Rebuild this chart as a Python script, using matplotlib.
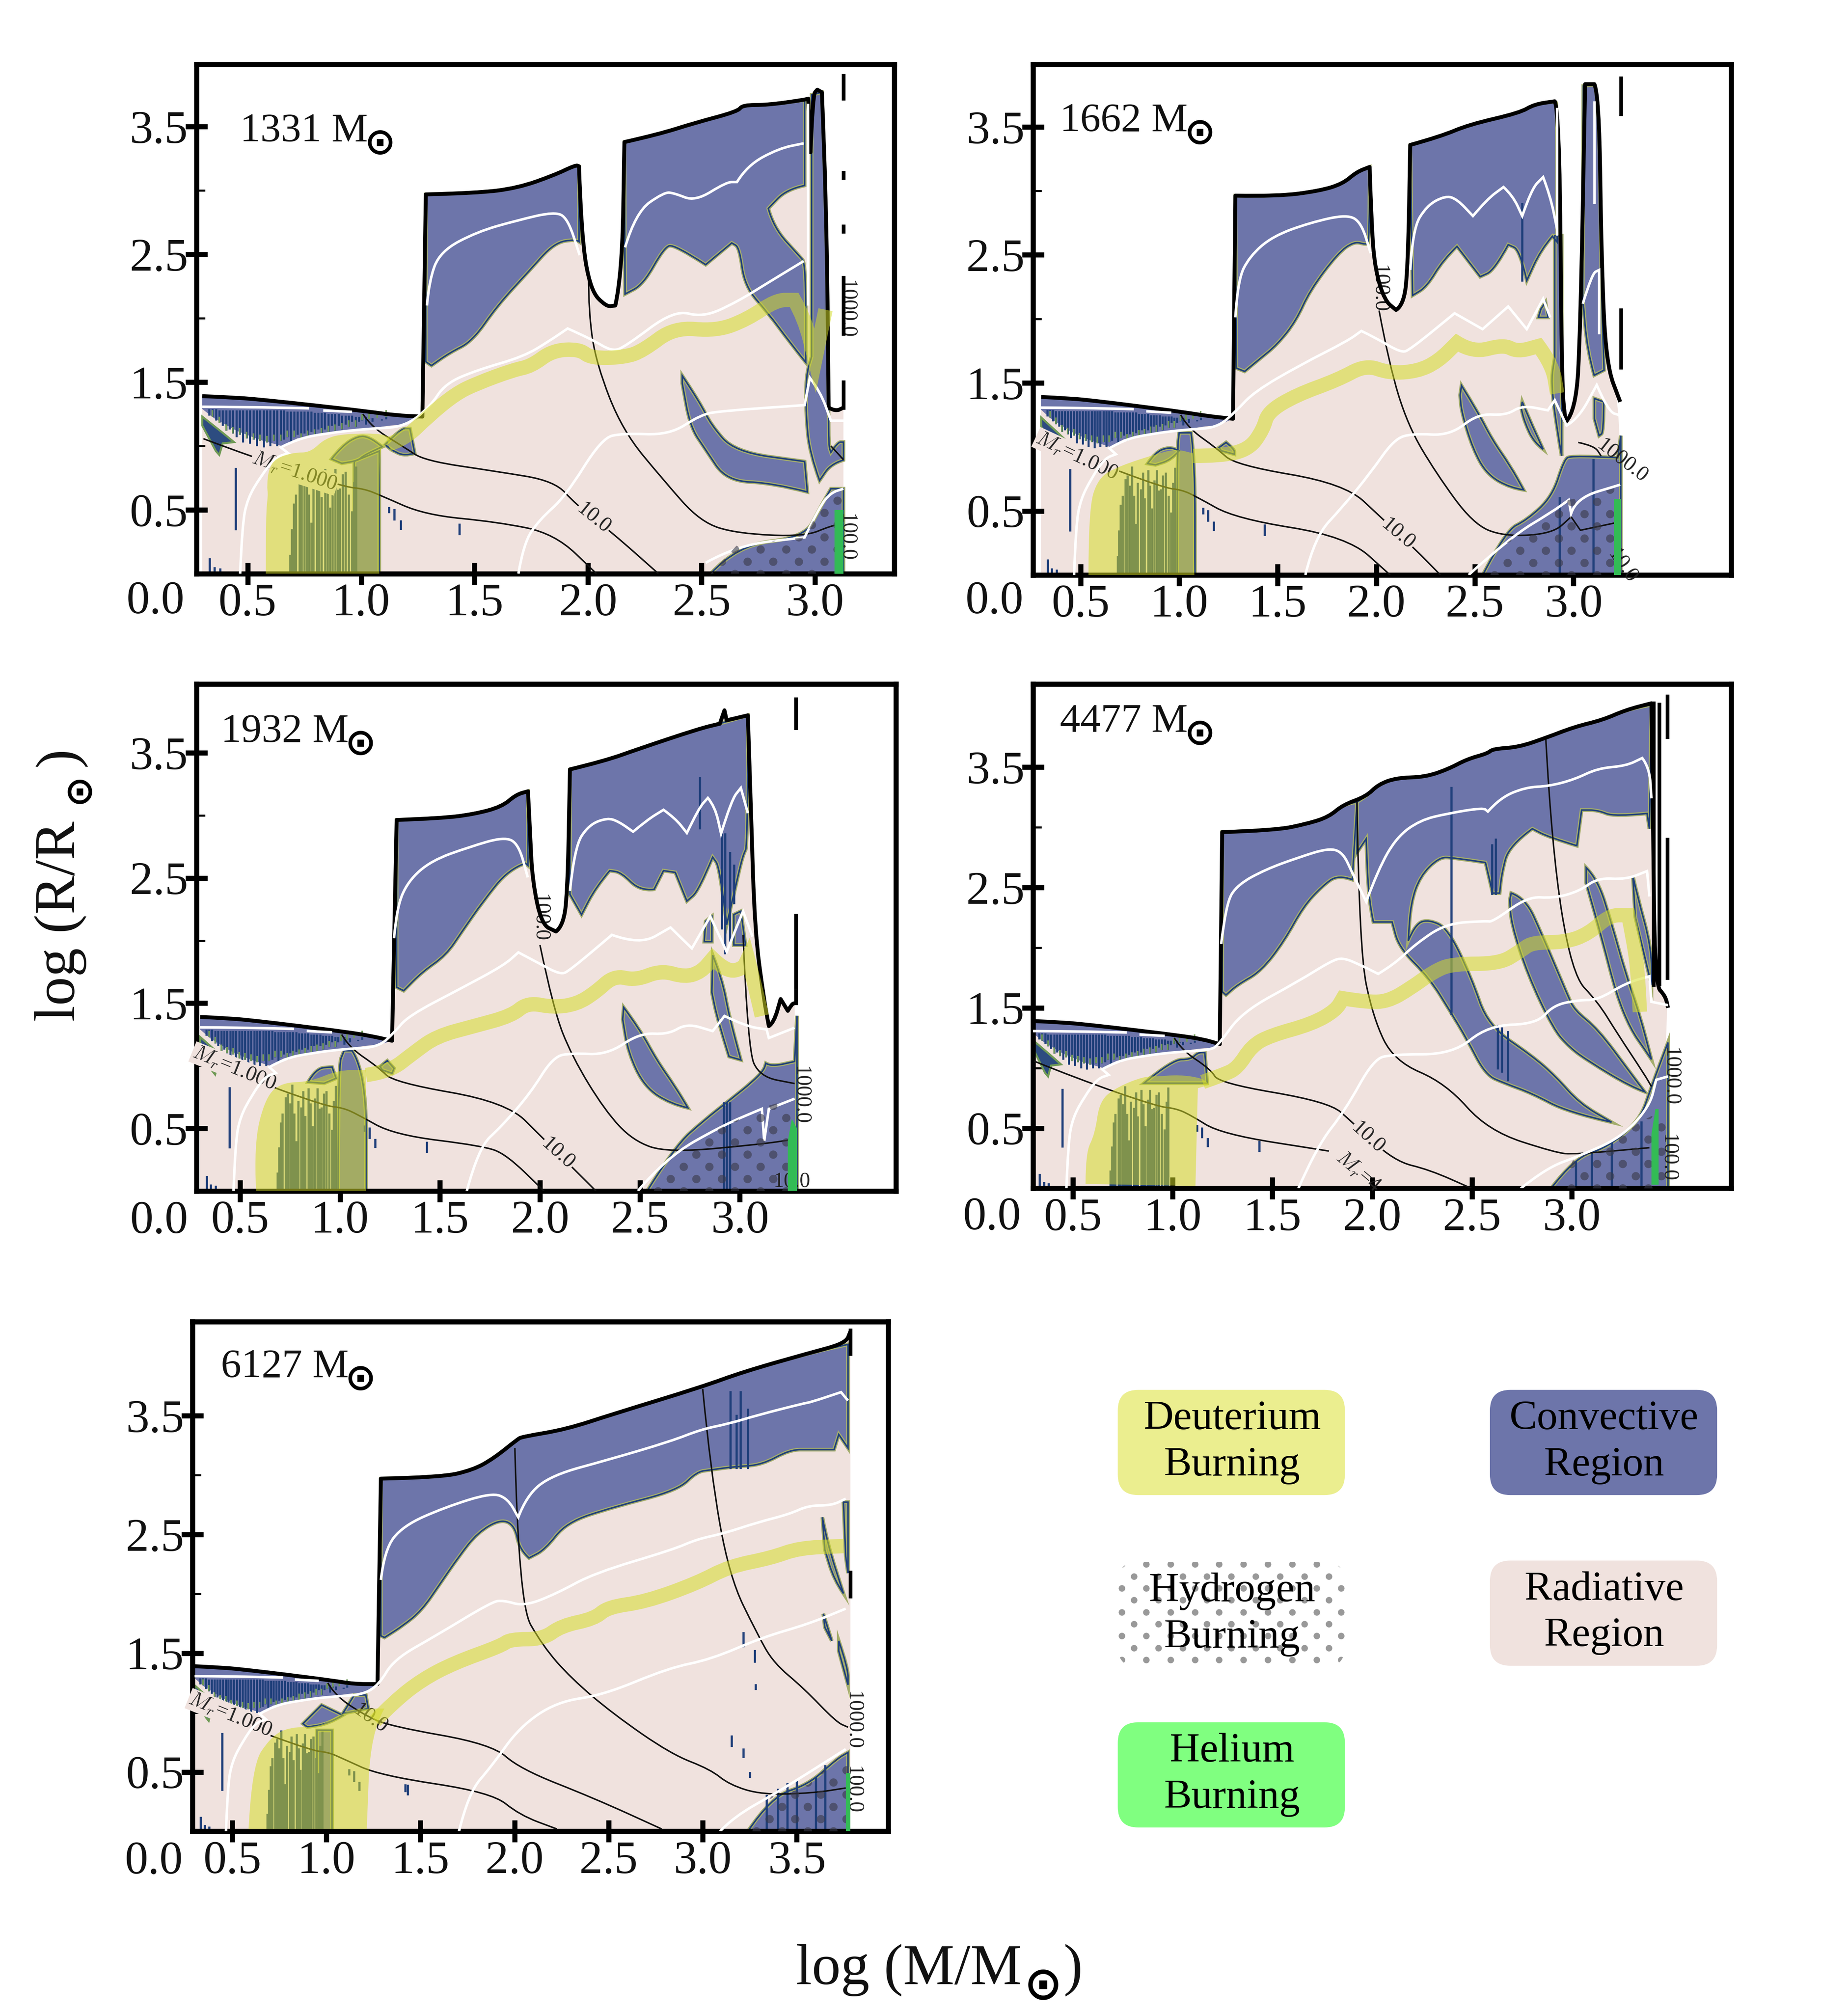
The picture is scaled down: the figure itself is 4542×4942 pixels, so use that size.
import numpy as np
import matplotlib
matplotlib.use("Agg")
import matplotlib.pyplot as plt
from matplotlib.patches import Polygon, FancyBboxPatch, PathPatch
from matplotlib.path import Path

plt.rcParams["font.family"] = ["Liberation Serif", "DejaVu Serif"]
plt.rcParams["mathtext.fontset"] = "cm"

RAD = "#f0e2de"
CONV = "#6d75aa"
NAVY = "#1f3f7a"
OLIVE = "#a4ad6c"
YELLOW = "#d5dd26"
GREEN = "#33bb55"

# parts shared by all models, the protostellar phase looks the same
LOW_SURFACE = [(0.30, 1.39), (0.45, 1.38), (0.60, 1.355), (0.785, 1.32), (1.03, 1.27), (1.15, 1.24)]
ENV_BOTTOM = [(1.20, 1.17), (1.13, 1.16), (1.0, 1.13), (0.85, 1.09), (0.72, 1.06), (0.65, 1.0),
              (0.55, 1.05), (0.45, 1.12), (0.35, 1.22), (0.30, 1.29)]
ENV_X = [0.33, 0.345, 0.36, 0.375, 0.39, 0.405, 0.42, 0.435, 0.45, 0.465, 0.48, 0.495, 0.51, 0.525, 0.54, 0.555,
         0.57, 0.585, 0.60, 0.615, 0.63, 0.645, 0.66, 0.675, 0.69, 0.705, 0.72, 0.735, 0.75, 0.765, 0.78, 0.795,
         0.81, 0.825, 0.84, 0.855, 0.87, 0.885, 0.90, 0.915, 0.93, 0.945, 0.96, 0.975, 0.99, 1.005, 1.02, 1.035,
         1.05, 1.07, 1.09, 1.11]
ENV_LOW = [1.24, 1.23, 1.20, 1.18, 1.16, 1.12, 1.13, 1.10, 1.07, 1.09, 1.03, 1.06, 1.02, 1.05, 1.0, 1.04,
           0.99, 1.03, 1.0, 1.04, 1.0, 1.04, 1.05, 1.07, 1.03, 1.07, 1.09, 1.05, 1.10, 1.07, 1.11, 1.08,
           1.13, 1.09, 1.13, 1.11, 1.16, 1.12, 1.16, 1.13, 1.17, 1.15, 1.19, 1.15, 1.19, 1.20, 1.17, 1.21,
           1.19, 1.22, 1.20, 1.23]
ENV_HIGH = [1.29, 1.29, 1.29, 1.28, 1.28, 1.28, 1.28, 1.28, 1.28, 1.28, 1.28, 1.28, 1.28, 1.28, 1.28, 1.28,
            1.28, 1.28, 1.28, 1.28, 1.28, 1.28, 1.28, 1.27, 1.27, 1.27, 1.27, 1.27, 1.27, 1.27, 1.27, 1.26,
            1.26, 1.26, 1.26, 1.25, 1.25, 1.25, 1.25, 1.24, 1.24, 1.24, 1.24, 1.23, 1.23, 1.23, 1.23, 1.22,
            1.22, 1.22, 1.21, 1.21]
LEFT_PATCH = [(0.30, 1.23), (0.30, 1.16), (0.36, 0.96), (0.375, 0.93), (0.39, 1.02), (0.44, 1.03), (0.385, 1.11)]
SPECKS = [(0.447, 0.35, 0.82), (0.333, 0.0, 0.114), (0.354, 0.0, 0.045), (0.378, 0.0, 0.034),
          (1.122, 0.483, 0.517), (1.146, 0.426, 0.50), (1.175, 0.352, 0.41), (1.433, 0.313, 0.386)]
DEUT_X = [0.687, 0.695, 0.703, 0.712, 0.728, 0.738, 0.75, 0.76, 0.77, 0.78, 0.79, 0.805, 0.815, 0.825, 0.842, 0.852,
          0.862, 0.874, 0.886, 0.896, 0.906, 0.918, 0.931, 0.945, 0.959, 0.968, 0.978]
DEUT_TOP = [0.15, 0.35, 0.55, 0.62, 0.75, 0.78, 0.70, 0.85, 0.62, 0.40, 0.72, 0.67, 0.80, 0.60, 0.82, 0.70,
            0.52, 0.74, 0.82, 0.66, 0.67, 0.78, 0.80, 0.62, 0.49, 0.72, 0.84]
WHITE_TOP = [[(0.30, 1.307), (0.50, 1.305), (0.77, 1.295)], [(0.833, 1.278), (0.96, 1.267)]]
WHITE_LOW = [(0.467, 0.0), (0.476, 0.386), (0.50, 0.59), (0.557, 0.76), (0.622, 0.91), (0.679, 0.943), (0.646, 0.989),
             (0.72, 1.057), (0.85, 1.10), (1.03, 1.136), (1.19, 1.148)]
BLACK_MR = [(0.305, 1.057), (0.516, 0.915), (0.923, 0.68), (1.012, 0.665), (1.085, 0.614)]
BLACK_TEN = [(1.008, 1.25), (1.045, 1.148), (1.19, 0.99)]
CORE_BUMP = [(0.87, 0.898), (0.915, 1.0), (0.988, 1.08), (1.036, 1.068), (1.093, 0.994), (1.012, 0.93), (0.988, 0.886),
             (0.915, 0.864)]

# 1331
SURF_1331 = [(1.27, 1.23), (1.285, 2.97), (1.51, 2.98), (1.69, 3.02), (1.85, 3.12), (1.945, 3.20), (1.96, 3.19),
             (1.97, 2.65), (2.01, 2.22), (2.08, 2.09), (2.12, 2.10), (2.15, 2.34), (2.16, 3.38), (2.31, 3.44),
             (2.47, 3.53), (2.66, 3.62), (2.68, 3.67), (2.79, 3.67), (2.95, 3.71), (2.97, 3.72), (2.98, 3.3),
             (2.99, 3.75), (3.01, 3.79), (3.03, 3.77), (3.05, 2.95), (3.06, 1.30), (3.09, 1.27), (3.125, 1.30)]
CONV_1331 = [
    [(1.285, 2.97), (1.51, 2.98), (1.69, 3.02), (1.85, 3.12), (1.945, 3.20), (1.96, 3.19), (1.96, 2.6), (1.945, 2.62),
     (1.85, 2.59), (1.74, 2.37), (1.6, 2.10), (1.49, 1.82), (1.39, 1.73), (1.31, 1.63), (1.285, 1.66)],
    [(2.16, 3.38), (2.31, 3.44), (2.47, 3.53), (2.66, 3.62), (2.68, 3.67), (2.79, 3.67), (2.954, 3.71), (2.954, 3.04),
     (2.874, 3.01), (2.794, 2.86), (2.817, 2.71), (2.93, 2.49), (2.959, 2.43), (2.959, 1.655), (2.885, 1.82),
     (2.794, 2.04), (2.69, 2.25), (2.667, 2.555), (2.633, 2.59), (2.518, 2.42), (2.38, 2.58), (2.335, 2.555),
     (2.243, 2.265), (2.163, 2.19)],
    [(2.985, 3.75), (3.03, 3.77), (3.05, 2.9), (3.06, 1.3), (3.06, 1.0), (3.07, 0.95), (3.10, 1.03), (3.125, 1.03),
     (3.125, 0.89), (3.07, 0.86), (3.02, 0.73), (2.977, 0.94), (2.96, 1.24), (2.96, 1.55), (2.985, 1.7)],
    [(2.415, 1.55), (2.495, 1.335), (2.54, 1.17), (2.645, 0.954), (2.954, 0.878), (2.966, 0.64), (2.816, 0.71),
     (2.61, 0.726), (2.518, 0.97), (2.45, 1.15), (2.415, 1.49)],
    [(2.54, 0.0), (2.656, 0.223), (2.954, 0.284), (3.02, 0.51), (3.07, 0.665), (3.125, 0.665), (3.125, 0.0)],
    [(1.106, 1.01), (1.175, 1.136), (1.215, 1.136), (1.236, 0.943), (1.19, 0.92), (1.134, 0.97)],
    CORE_BUMP,
    [(0.97, 0.0), (0.97, 0.88), (1.08, 0.96), (1.08, 0.0)],
]
DOTS_1331 = [(2.54, 0.0), (2.656, 0.223), (2.954, 0.284), (3.02, 0.51), (3.07, 0.665), (3.125, 0.665), (3.125, 0.0)]
HE_1331 = [(3.085, 0.0), (3.085, 0.5), (3.125, 0.5), (3.125, 0.0)]
LOWD_1331 = [(0.58, 0.0), (0.58, 0.477), (0.59, 0.61), (0.585, 0.693), (0.593, 0.818), (0.622, 0.903), (0.703, 0.949),
             (0.776, 0.949), (0.841, 1.06), (0.931, 1.097), (1.11, 1.097), (1.134, 1.034), (1.098, 0.994), (1.08, 0.955),
             (1.08, 0.0)]
BAND_1331 = [(1.12, 1.015), (1.19, 1.05), (1.30, 1.24), (1.417, 1.41), (1.51, 1.49), (1.67, 1.595), (1.75, 1.625),
             (1.842, 1.747), (1.96, 1.76), (2.014, 1.686), (2.163, 1.695), (2.243, 1.747), (2.38, 1.93), (2.564, 1.90),
             (2.70, 1.99), (2.828, 2.143), (2.908, 2.143), (2.954, 2.0), (3.0, 1.67), (3.046, 2.067)]
WHITE_1331 = [
    [(1.29, 2.10), (1.30, 2.3), (1.349, 2.524), (1.51, 2.677), (1.69, 2.768), (1.853, 2.835), (1.91, 2.783), (1.963, 2.494)],
    [(2.163, 2.555), (2.209, 2.83), (2.335, 2.988), (2.38, 2.98), (2.472, 2.915), (2.61, 3.067), (2.656, 3.067),
     (2.70, 3.195), (2.84, 3.33), (2.95, 3.37)],
    WHITE_LOW + [(1.303, 1.305), (1.37, 1.488), (1.51, 1.594), (1.716, 1.70), (1.83, 1.823), (1.91, 1.92), (2.014, 1.838),
                 (2.105, 1.74), (2.163, 1.777), (2.38, 2.067), (2.507, 2.006), (2.656, 2.128), (2.794, 2.28), (2.95, 2.448)],
    [(1.693, 0.0), (1.716, 0.238), (1.784, 0.42), (1.9, 0.604), (2.06, 1.06), (2.151, 1.10), (2.358, 1.085), (2.495, 1.244),
     (2.587, 1.274), (2.954, 1.32), (2.977, 1.534), (3.023, 1.427), (3.07, 1.198), (3.125, 1.198)],
    [(2.518, 0.085), (2.656, 0.223), (2.954, 0.284), (3.02, 0.527), (3.07, 0.634), (3.125, 0.665)],
    [(2.97, 3.68), (2.97, 2.1)],
]
BLACK_1331 = [
    BLACK_MR + [(1.28, 0.46), (1.6, 0.405), (1.853, 0.314), (2.037, 0.0)],
    BLACK_TEN + [(1.28, 0.884), (1.6, 0.80), (1.853, 0.725), (1.945, 0.543), (2.105, 0.323), (2.31, 0.0)],
    [(2.002, 2.34), (2.002, 2.037), (2.037, 1.64), (2.151, 1.122), (2.335, 0.726), (2.495, 0.405), (2.656, 0.314),
     (2.954, 0.29), (3.07, 0.375), (3.125, 0.39)],
    [(3.07, 1.0), (3.125, 0.893)],
]
NEEDLE_1331 = [(3.125, 3.9, 3.72), (3.125, 3.14, 3.1), (3.125, 2.72, 2.68), (3.125, 2.32, 1.88), (3.125, 1.5, 1.3)]
LABELS_1331 = [("$M_r$=1.000", 0.706, 0.80, -18, True), ("10.0", 2.025, 0.436, -39, True),
               ("1000.0", 3.14, 2.07, 270, False), ("100.0", 3.14, 0.284, 270, False)]
STREAKS_1331 = []

# 1662
SURF_1662 = [(1.273, 1.22), (1.285, 2.963), (1.498, 2.957), (1.711, 3.0), (1.829, 3.055), (1.90, 3.148), (1.966, 3.187),
             (1.976, 2.70), (1.995, 2.38), (2.042, 2.144), (2.10, 2.07), (2.137, 2.105), (2.16, 2.382), (2.172, 3.359),
             (2.326, 3.425), (2.468, 3.517), (2.728, 3.61), (2.80, 3.676), (2.905, 3.70), (2.929, 3.623), (2.94, 1.484),
             (2.96, 1.194), (3.012, 1.273), (3.035, 1.907), (3.059, 3.834), (3.106, 3.834), (3.13, 3.755), (3.142, 2.435),
             (3.166, 1.642), (3.237, 1.352)]
CONV_1662 = [
    [(1.285, 2.963), (1.498, 2.957), (1.711, 3.0), (1.829, 3.055), (1.90, 3.148), (1.966, 3.187), (1.966, 2.6), (1.947, 2.58),
     (1.888, 2.606), (1.805, 2.514), (1.663, 2.223), (1.593, 1.986), (1.498, 1.80), (1.404, 1.682), (1.332, 1.59), (1.29, 1.616)],
    [(2.172, 3.359), (2.326, 3.425), (2.468, 3.517), (2.728, 3.61), (2.80, 3.676), (2.905, 3.70), (2.917, 3.68), (2.917, 2.6),
     (2.893, 2.646), (2.834, 2.54), (2.763, 2.30), (2.728, 2.54), (2.669, 2.58), (2.598, 2.38), (2.527, 2.33), (2.409, 2.567),
     (2.338, 2.46), (2.255, 2.25), (2.184, 2.184)],
    [(2.905, 2.65), (2.94, 2.65), (2.94, 0.93), (2.92, 1.1), (2.885, 1.5), (2.905, 1.7)],
    [(3.05, 3.82), (3.106, 3.83), (3.13, 3.75), (3.14, 2.3), (3.155, 1.6), (3.105, 1.56), (3.07, 1.75), (3.047, 2.17)],
    [(3.106, 1.378), (3.153, 1.352), (3.153, 1.114), (3.13, 1.088), (3.106, 1.22)],
    [(2.432, 1.479), (2.515, 1.273), (2.586, 1.06), (2.68, 0.85), (2.747, 0.665), (2.68, 0.68), (2.562, 0.784), (2.49, 0.982),
     (2.432, 1.273), (2.425, 1.405)],
    [(2.74, 1.352), (2.775, 1.22), (2.846, 0.982), (2.80, 1.035), (2.752, 1.194), (2.735, 1.3)],
    [(2.858, 2.13), (2.87, 2.012), (2.822, 2.012), (2.835, 2.078)],
    [(2.54, 0.0), (2.657, 0.349), (2.763, 0.428), (2.893, 0.613), (2.953, 0.903), (2.988, 0.93), (3.225, 0.916), (3.24, 1.088),
     (3.24, 0.0)],
    [(1.202, 0.995), (1.238, 1.035), (1.28, 0.982), (1.28, 0.943), (1.214, 0.97)],
    [(0.84, 0.87), (0.88, 0.96), (0.95, 1.0), (1.0, 0.97), (0.96, 0.9), (0.88, 0.86)],
    [(0.99, 0.0), (0.99, 0.98), (1.0, 1.11), (1.06, 1.11), (1.08, 0.9), (1.08, 0.0)],
]
DOTS_1662 = [(2.54, 0.0), (2.66, 0.25), (2.96, 0.58), (3.07, 0.62), (3.24, 0.69), (3.24, 0.0)]
HE_1662 = [(3.205, 0.0), (3.205, 0.594), (3.24, 0.594), (3.24, 0.0)]
LOWD_1662 = [(0.54, 0.0), (0.54, 0.507), (0.588, 0.758), (0.694, 0.85), (0.907, 0.956), (0.99, 0.982), (1.07, 0.95),
             (1.077, 0.0)]
BAND_1662 = [(1.07, 0.93), (1.214, 0.93), (1.356, 0.982), (1.427, 1.14), (1.45, 1.273), (1.593, 1.405), (1.805, 1.524),
             (1.947, 1.642), (2.065, 1.576), (2.208, 1.59), (2.314, 1.669), (2.409, 1.814), (2.49, 1.735), (2.645, 1.80),
             (2.716, 1.743), (2.823, 1.788), (2.893, 1.642), (2.917, 1.418)]
WHITE_1662 = [
    [(1.285, 2.012), (1.297, 2.30), (1.356, 2.487), (1.474, 2.646), (1.664, 2.752), (1.853, 2.817), (1.924, 2.751), (1.971, 2.514)],
    [(2.172, 2.382), (2.184, 2.70), (2.255, 2.884), (2.35, 2.963), (2.409, 2.936), (2.49, 2.804), (2.562, 2.936), (2.645, 3.03),
     (2.692, 2.963), (2.74, 2.804), (2.787, 3.016), (2.846, 3.108), (2.882, 2.963), (2.917, 2.70)],
    WHITE_LOW + [(1.285, 1.273), (1.38, 1.431), (1.616, 1.642), (1.853, 1.827), (1.924, 1.906), (1.995, 1.854), (2.125, 1.735),
                 (2.172, 1.761), (2.397, 2.044), (2.539, 1.92), (2.669, 2.097), (2.763, 1.92), (2.846, 2.157), (2.882, 2.012)],
    [(1.64, 0.0), (1.687, 0.296), (1.83, 0.533), (1.97, 0.797), (2.09, 1.06), (2.184, 1.106), (2.373, 1.088), (2.515, 1.26),
     (2.657, 1.246), (2.74, 1.325), (2.87, 1.286), (2.905, 1.365), (2.965, 1.167), (3.024, 1.22), (3.118, 1.484), (3.177, 1.273),
     (3.24, 1.246)],
    [(2.468, 0.0), (2.68, 0.296), (2.893, 0.494), (2.976, 0.586), (2.988, 0.48), (3.012, 0.6), (3.237, 0.705)],
    [(3.047, 2.118), (3.094, 2.355), (3.13, 2.382), (3.13, 1.88)],
    [(3.106, 3.7), (3.106, 2.9)],
    [(2.917, 3.65), (2.917, 2.65)],
]
BLACK_1662 = [
    BLACK_MR + [(1.285, 0.44), (1.853, 0.30), (2.07, 0.0)],
    BLACK_TEN + [(1.285, 0.858), (1.84, 0.713), (2.03, 0.44), (2.196, 0.203), (2.325, 0.0)],
    [(2.014, 2.065), (2.065, 1.642), (2.16, 1.167), (2.302, 0.797), (2.49, 0.40), (2.645, 0.30), (2.893, 0.322), (2.988, 0.454),
     (3.035, 0.349), (3.237, 0.415)],
    [(3.024, 1.035), (3.106, 1.009), (3.14, 0.93)],
]
NEEDLE_1662 = [(3.24, 3.88, 3.6), (3.24, 2.07, 1.62)]
LABELS_1662 = [("$M_r$=1.000", 0.48, 0.93, -25, True), ("10.0", 2.11, 0.32, -40, True), ("1000.0", 3.248, 0.89, -38, False),
               ("100.0", 2.014, 2.236, 270, False), ("10.0", 3.248, 0.07, -55, False)]
STREAKS_1662 = [(2.74, 2.3, 2.9), (2.93, 0.0, 0.6), (3.1, 0.0, 0.9)]

# 1932
SURF_1932 = [(1.26, 1.2), (1.283, 2.964), (1.505, 2.977), (1.67, 3.01), (1.81, 3.07), (1.88, 3.166), (1.94, 3.193),
             (1.95, 2.88), (1.962, 2.478), (2.009, 2.127), (2.08, 2.073), (2.114, 2.113), (2.138, 2.37), (2.15, 3.368),
             (2.325, 3.436), (2.49, 3.53), (2.794, 3.692), (2.9, 3.733), (2.923, 3.84), (2.934, 3.76), (3.04, 3.80),
             (3.056, 3.018), (3.075, 2.073), (3.12, 1.533), (3.145, 1.317), (3.17, 1.344), (3.204, 1.533), (3.24, 1.439),
             (3.26, 1.493), (3.274, 1.5)]
CONV_1932 = [
    [(1.283, 2.964), (1.505, 2.977), (1.67, 3.01), (1.81, 3.07), (1.88, 3.166), (1.94, 3.193), (1.94, 2.6), (1.927, 2.618),
     (1.845, 2.572), (1.716, 2.316), (1.61, 2.073), (1.53, 1.884), (1.41, 1.749), (1.318, 1.6), (1.283, 1.628)],
    [(2.15, 3.368), (2.325, 3.436), (2.49, 3.53), (2.794, 3.692), (2.9, 3.733), (3.04, 3.80), (3.04, 2.748), (3.016, 2.694),
     (2.97, 2.37), (2.934, 2.127), (2.9, 2.586), (2.864, 2.667), (2.794, 2.397), (2.735, 2.316), (2.677, 2.545), (2.618, 2.559),
     (2.571, 2.41), (2.5, 2.397), (2.407, 2.545), (2.349, 2.559), (2.278, 2.424), (2.208, 2.208), (2.15, 2.37)],
    [(2.97, 2.208), (3.005, 2.235), (3.028, 1.965), (2.97, 1.965)],
    [(2.864, 1.884), (2.911, 1.695), (2.946, 1.398), (3.005, 1.047), (2.946, 1.074), (2.888, 1.371), (2.86, 1.587)],
    [(2.829, 2.154), (2.86, 2.194), (2.86, 1.992), (2.822, 1.992)],
    [(2.419, 1.466), (2.5, 1.29), (2.583, 1.047), (2.677, 0.831), (2.74, 0.664), (2.653, 0.696), (2.524, 0.831), (2.442, 1.101),
     (2.414, 1.371)],
    [(2.536, 0.0), (2.677, 0.36), (2.818, 0.561), (2.958, 0.737), (3.063, 0.872), (3.12, 0.966), (3.13, 1.02), (3.157, 0.993),
     (3.274, 1.034), (3.286, 1.4), (3.286, 0.0)],
    [(1.2, 0.993), (1.236, 1.04), (1.27, 0.98), (1.26, 0.94), (1.212, 0.966)],
    [(0.84, 0.87), (0.88, 0.98), (0.96, 0.99), (0.98, 0.90), (0.92, 0.86)],
    [(0.99, 0.0), (0.99, 1.0), (1.02, 1.12), (1.06, 1.12), (1.13, 0.95), (1.13, 0.0)],
]
DOTS_1932 = [(2.536, 0.0), (2.68, 0.28), (2.9, 0.5), (3.12, 0.67), (3.27, 0.74), (3.27, 0.0)]
HE_1932 = [(3.24, 0.0), (3.24, 0.4), (3.26, 0.575), (3.286, 0.5), (3.286, 0.0)]
LOWD_1932 = [(0.58, 0.0), (0.568, 0.372), (0.627, 0.75), (0.709, 0.866), (0.85, 0.872), (0.99, 0.966), (1.13, 0.966), (1.13, 0.0)]
BAND_1932 = [(1.13, 0.926), (1.247, 0.953), (1.365, 1.1), (1.482, 1.236), (1.67, 1.317), (1.857, 1.398), (1.939, 1.506),
             (2.067, 1.466), (2.185, 1.493), (2.278, 1.587), (2.372, 1.722), (2.478, 1.682), (2.606, 1.763), (2.724, 1.708),
             (2.806, 1.749), (2.864, 1.857), (2.934, 1.749), (3.016, 1.776), (3.04, 1.857), (3.063, 1.722), (3.11, 1.398)]
WHITE_1932 = [
    [(1.27, 2.019), (1.283, 2.262), (1.341, 2.478), (1.458, 2.64), (1.646, 2.748), (1.82, 2.829), (1.892, 2.775), (1.939, 2.505)],
    [(2.15, 2.397), (2.173, 2.748), (2.243, 2.923), (2.337, 2.982), (2.395, 2.95), (2.466, 2.87), (2.536, 2.964), (2.618, 3.045),
     (2.677, 2.977), (2.735, 2.86), (2.794, 3.058), (2.84, 3.14), (2.876, 3.07), (2.906, 2.855), (2.958, 3.125), (3.005, 3.22),
     (3.04, 3.018)],
    WHITE_LOW + [(1.27, 1.263), (1.341, 1.398), (1.6, 1.614), (1.82, 1.803), (1.892, 1.906), (1.997, 1.817), (2.103, 1.727),
                 (2.15, 1.763), (2.36, 2.046), (2.5, 1.965), (2.653, 2.105), (2.76, 1.938), (2.852, 2.194), (2.934, 1.911),
                 (3.016, 2.235), (3.063, 2.032)],
    [(1.634, 0.0), (1.692, 0.345), (1.81, 0.52), (1.95, 0.777), (2.067, 1.074), (2.161, 1.101), (2.337, 1.088), (2.5, 1.263),
     (2.641, 1.25), (2.735, 1.339), (2.864, 1.277), (2.923, 1.398), (3.028, 1.317), (3.134, 1.29), (3.145, 1.222), (3.274, 1.304)],
    [(2.49, 0.0), (2.63, 0.265), (2.91, 0.521), (3.11, 0.656), (3.122, 0.4), (3.145, 0.656), (3.274, 0.737)],
]
BLACK_1932 = [
    BLACK_MR + [(1.27, 0.448), (1.716, 0.36), (1.833, 0.29), (2.02, 0.0)],
    BLACK_TEN + [(1.27, 0.866), (1.833, 0.71), (2.02, 0.413), (2.28, 0.0)],
    [(2.0, 1.965), (2.067, 1.452), (2.16, 1.074), (2.325, 0.642), (2.466, 0.4), (2.64, 0.305), (3.1, 0.372), (3.274, 0.413)],
    [(3.016, 2.046), (3.04, 1.128), (3.1, 0.912), (3.274, 0.858)],
]
NEEDLE_1932 = [(3.28, 3.93, 3.7), (3.28, 2.2, 1.63), (3.28, 1.6, 1.5)]
LABELS_1932 = [("$M_r$=1.000", 0.47, 0.98, -22, True), ("10.0", 2.09, 0.3, -42, True), ("100.0", 2.0, 2.18, 270, False),
               ("1000.0", 3.305, 0.764, 270, False), ("10.0", 3.26, 0.075, 0, False)]
STREAKS_1932 = [(2.92, 0.0, 0.7), (2.935, 0.0, 0.7), (2.95, 0.0, 0.7), (2.91, 2.1, 2.85), (2.925, 1.9, 2.85), (2.95, 2.0, 2.7),
                (2.97, 2.3, 2.6), (2.8, 2.9, 3.3)]

# 4477
SURF_4477 = [(1.236, 1.198), (1.248, 2.96), (1.513, 2.974), (1.677, 3.03), (1.783, 3.087), (1.853, 3.186), (1.97, 3.256),
             (2.03, 3.355), (2.123, 3.411), (2.264, 3.417), (2.38, 3.482), (2.476, 3.566), (2.58, 3.614), (2.604, 3.651),
             (2.733, 3.665), (2.873, 3.744), (3.014, 3.834), (3.155, 3.891), (3.272, 3.975), (3.4, 4.03), (3.408, 3.1),
             (3.417, 1.69), (3.47, 1.6), (3.483, 1.5)]
CONV_4477 = [
    [(1.248, 2.96), (1.513, 2.974), (1.677, 3.03), (1.783, 3.087), (1.853, 3.186), (1.924, 3.21), (1.9, 2.565), (1.83, 2.608),
     (1.748, 2.509), (1.654, 2.34), (1.56, 2.058), (1.443, 1.804), (1.325, 1.692), (1.267, 1.607), (1.248, 1.635)],
    [(1.924, 3.21), (1.97, 3.256), (2.03, 3.355), (2.123, 3.411), (2.264, 3.417), (2.38, 3.482), (2.476, 3.566), (2.58, 3.614),
     (2.604, 3.651), (2.733, 3.665), (2.873, 3.744), (3.014, 3.834), (3.155, 3.891), (3.272, 3.975), (3.4, 4.017), (3.39, 2.988),
     (3.378, 3.115), (3.213, 3.087), (3.131, 3.143), (3.05, 3.143), (3.026, 2.847), (2.885, 2.918), (2.803, 2.988), (2.686, 2.847),
     (2.65, 2.622), (2.639, 2.453), (2.604, 2.453), (2.568, 2.707), (2.404, 2.749), (2.334, 2.749), (2.24, 2.594), (2.193, 2.368),
     (2.181, 2.058), (2.217, 2.2), (2.287, 2.233), (2.38, 2.157), (2.498, 1.748), (2.58, 1.353), (2.803, 1.1), (2.92, 0.93),
     (3.04, 0.705), (3.2, 0.55), (2.979, 0.634), (2.803, 0.789), (2.662, 0.874), (2.568, 0.944), (2.475, 1.24), (2.393, 1.466),
     (2.287, 1.748), (2.135, 2.0), (2.1, 2.213), (2.006, 2.213), (1.982, 2.396), (1.97, 2.904), (1.924, 2.79)],
    [(2.697, 2.453), (2.768, 2.41), (2.85, 2.114), (2.979, 1.607), (3.014, 1.48), (3.131, 1.325), (3.295, 0.959), (3.366, 0.803),
     (3.295, 0.846), (3.084, 1.057), (2.99, 1.17), (2.908, 1.325), (2.78, 1.776), (2.697, 2.2), (2.69, 2.396)],
    [(3.073, 2.664), (3.131, 2.566), (3.2, 2.2), (3.272, 1.776), (3.342, 1.438), (3.4, 1.071), (3.366, 1.156), (3.295, 1.325),
     (3.225, 1.607), (3.155, 2.058), (3.073, 2.537)],
    [(3.307, 2.594), (3.33, 2.425), (3.4, 2.0), (3.4, 1.69), (3.319, 2.255)],
    [(2.897, 0.0), (3.014, 0.254), (3.178, 0.338), (3.342, 0.564), (3.4, 0.846), (3.483, 1.212), (3.483, 0.0)],
    [(0.856, 0.874), (1.0, 1.07), (1.09, 1.07), (1.126, 1.128), (1.161, 1.128), (1.173, 0.874)],
]
DOTS_4477 = [(2.95, 0.0), (3.01, 0.25), (3.18, 0.34), (3.34, 0.55), (3.4, 0.6), (3.48, 0.6), (3.48, 0.0)]
HE_4477 = [(3.4, 0.03), (3.4, 0.45), (3.42, 0.66), (3.436, 0.66), (3.436, 0.03)]
LOWD_4477 = [(0.563, 0.037), (0.563, 0.296), (0.61, 0.45), (0.634, 0.733), (0.727, 0.846), (0.856, 0.93), (0.927, 0.93),
             (1.032, 0.944), (1.15, 0.916), (1.185, 0.86), (1.126, 0.832), (1.114, 0.02)]
BAND_4477 = [(1.15, 0.884), (1.255, 0.944), (1.325, 1.0), (1.396, 1.184), (1.49, 1.27), (1.7, 1.367), (1.818, 1.48), (1.853, 1.579),
             (1.959, 1.55), (2.076, 1.55), (2.193, 1.663), (2.31, 1.804), (2.404, 1.866), (2.639, 1.866), (2.744, 1.973), (2.803, 2.044),
             (2.967, 2.044), (3.084, 2.114), (3.19, 2.27), (3.284, 2.27), (3.307, 2.086), (3.33, 1.833), (3.342, 1.466)]
WHITE_4477 = [
    [(1.243, 2.03), (1.267, 2.368), (1.325, 2.523), (1.466, 2.65), (1.63, 2.749), (1.783, 2.828), (1.853, 2.79), (1.9, 2.622),
     (1.97, 2.382), (2.03, 2.65), (2.123, 2.918), (2.24, 3.059), (2.38, 3.115), (2.557, 3.163), (2.58, 3.13), (2.639, 3.242),
     (2.768, 3.332), (2.885, 3.341), (3.014, 3.397), (3.131, 3.49), (3.272, 3.51), (3.354, 3.575), (3.39, 3.496), (3.4, 3.24)],
    WHITE_LOW + [(1.232, 1.198), (1.349, 1.466), (1.63, 1.72), (1.794, 1.889), (1.853, 1.917), (1.935, 1.861), (2.03, 1.782),
                 (2.11, 1.861), (2.217, 2.03), (2.37, 2.2), (2.568, 2.222), (2.604, 2.213), (2.78, 2.425), (2.908, 2.41),
                 (3.037, 2.467), (3.131, 2.58), (3.272, 2.566), (3.378, 2.636), (3.39, 2.425)],
    [(1.63, 0.0), (1.724, 0.352), (1.865, 0.648), (2.006, 1.071), (2.1, 1.114), (2.404, 1.114), (2.58, 1.353), (2.826, 1.367),
     (2.908, 1.522), (3.037, 1.565), (3.131, 1.565), (3.272, 1.706), (3.39, 1.762), (3.4, 1.55), (3.483, 1.522)],
    [(2.745, 0.0), (2.873, 0.169), (3.037, 0.268), (3.248, 0.423), (3.39, 0.677), (3.424, 0.902), (3.483, 0.93)],
]
BLACK_4477 = [
    BLACK_MR + [(1.243, 0.451), (1.783, 0.31)],
    BLACK_TEN + [(1.232, 0.874), (1.783, 0.719), (1.9, 0.55), (2.11, 0.226), (2.287, 0.155), (2.498, 0.0)],
    [(1.924, 3.21), (1.935, 1.973), (2.006, 1.41), (2.11, 1.057), (2.369, 0.874), (2.58, 0.479), (2.92, 0.296), (3.014, 0.282),
     (3.39, 0.338)],
    [(2.87, 3.75), (2.9, 2.82), (3.0, 1.776), (3.131, 1.55), (3.225, 1.297), (3.366, 0.944), (3.4, 0.846)],
]
NEEDLE_4477 = [(3.41, 4.03, 1.69), (3.44, 4.02, 1.7), (3.48, 4.09, 3.75), (3.48, 2.9, 1.75)]
LABELS_4477 = [("$M_r$=4", 1.93, 0.14, -40, False), ("10.0", 1.98, 0.423, -42, True), ("1000.0", 3.495, 0.93, 270, False),
               ("100.0", 3.483, 0.254, 270, False)]
STREAKS_4477 = [(2.397, 1.45, 3.327), (2.6, 2.45, 2.85), (2.62, 2.45, 2.9), (2.63, 1.0, 1.35), (2.65, 0.97, 1.33), (2.68, 0.9, 1.3),
                (3.02, 0.0, 0.22), (3.1, 0.0, 0.3), (3.2, 0.0, 0.38), (3.35, 0.0, 0.55)]

# 6127
SURF_6127 = [(1.272, 1.24), (1.29, 2.97), (1.606, 2.98), (1.78, 3.043), (1.891, 3.142), (2.015, 3.3), (2.04, 3.322), (2.275, 3.385),
             (2.522, 3.513), (2.993, 3.741), (3.215, 3.869), (3.562, 4.026), (3.76, 4.11), (3.785, 4.21)]
CONV_6127 = [
    [(1.29, 2.97), (1.606, 2.98), (1.78, 3.043), (1.891, 3.142), (2.015, 3.3), (2.04, 3.322), (2.275, 3.385), (2.522, 3.513),
     (2.993, 3.741), (3.215, 3.869), (3.562, 4.026), (3.772, 4.1), (3.772, 3.228), (3.723, 3.342), (3.698, 3.214), (3.574, 3.214),
     (3.463, 3.214), (3.314, 3.085), (3.166, 3.071), (3.042, 3.043), (2.968, 3.028), (2.869, 2.872), (2.522, 2.729), (2.275, 2.601),
     (2.163, 2.373), (2.077, 2.302), (2.027, 2.373), (2.002, 2.573), (1.928, 2.63), (1.804, 2.516), (1.705, 2.316), (1.606, 2.088),
     (1.507, 1.86), (1.408, 1.732), (1.309, 1.632), (1.29, 1.647)],
    [(3.24, 0.0), (3.364, 0.293), (3.562, 0.393), (3.71, 0.607), (3.772, 0.664), (3.772, 0.0)],
    [(3.636, 2.644), (3.661, 2.43), (3.748, 2.003), (3.698, 2.117), (3.649, 2.373)],
    [(3.748, 2.772), (3.772, 2.772), (3.772, 2.174), (3.76, 2.316)],
    [(3.641, 1.832), (3.686, 1.604), (3.649, 1.718)],
    [(3.723, 1.604), (3.772, 1.376), (3.772, 1.234), (3.723, 1.519)],
    [(0.876, 0.906), (0.975, 1.063), (1.087, 0.977), (1.012, 0.906), (0.90, 0.878)],
    [(1.087, 0.991), (1.149, 1.148), (1.21, 1.148), (1.223, 1.034)],
    [(0.95, 0.0), (0.95, 0.85), (1.03, 0.85), (1.03, 0.0)],
]
DOTS_6127 = [(3.24, 0.0), (3.364, 0.293), (3.562, 0.393), (3.71, 0.607), (3.772, 0.664), (3.772, 0.0)]
HE_6127 = [(3.76, 0.0), (3.76, 0.49), (3.785, 0.49), (3.785, 0.0)]
LOWD_6127 = [(0.587, 0.02), (0.604, 0.55), (0.703, 0.792), (0.802, 0.878), (0.963, 0.878), (1.062, 0.977), (1.16, 1.034),
             (1.309, 1.034), (1.235, 0.835), (1.215, 0.02)]
BAND_6127 = [(1.26, 0.93), (1.359, 1.091), (1.507, 1.276), (1.68, 1.419), (1.928, 1.561), (1.978, 1.618), (2.151, 1.618), (2.25, 1.732),
             (2.423, 1.789), (2.497, 1.889), (2.695, 1.932), (2.968, 2.088), (3.141, 2.231), (3.364, 2.302), (3.512, 2.387), (3.748, 2.402)]
WHITE_6127 = [
    [(1.29, 2.117), (1.309, 2.373), (1.408, 2.573), (1.631, 2.729), (1.879, 2.852), (1.965, 2.80), (2.02, 2.644), (2.064, 2.829),
     (2.2, 3.0), (2.497, 3.128), (2.832, 3.285), (2.993, 3.385), (3.141, 3.433), (3.29, 3.504), (3.537, 3.604), (3.574, 3.613),
     (3.735, 3.698), (3.772, 3.627)],
    WHITE_LOW + [(1.28, 1.234), (1.359, 1.447), (1.582, 1.647), (1.879, 1.932), (1.941, 1.946), (2.052, 1.895), (2.225, 2.003),
                 (2.423, 2.174), (2.844, 2.373), (2.968, 2.459), (3.116, 2.51), (3.29, 2.601), (3.463, 2.672), (3.562, 2.744),
                 (3.686, 2.744), (3.76, 2.801)],
    [(1.705, 0.0), (1.755, 0.322), (1.879, 0.55), (2.027, 0.878), (2.225, 1.091), (2.473, 1.148), (2.819, 1.376), (3.042, 1.447),
     (3.314, 1.632), (3.562, 1.746), (3.76, 1.875)],
    [(3.092, 0.0), (3.166, 0.123), (3.389, 0.322), (3.562, 0.493), (3.76, 0.692)],
]
BLACK_6127 = [
    BLACK_MR + [(1.285, 0.47), (1.879, 0.328), (2.027, 0.137), (2.225, 0.02)],
    BLACK_TEN + [(1.334, 0.886), (1.879, 0.735), (2.027, 0.527), (2.423, 0.279), (2.782, 0.02)],
    [(2.002, 3.228), (2.022, 1.917), (2.15, 1.561), (2.3, 1.29), (2.522, 0.991), (2.832, 0.65), (3.042, 0.521), (3.141, 0.393),
     (3.314, 0.308), (3.587, 0.322), (3.76, 0.365)],
    [(3.0, 3.726), (3.042, 3.028), (3.141, 2.145), (3.29, 1.661), (3.376, 1.419), (3.537, 1.205), (3.71, 0.92), (3.772, 0.877)],
]
NEEDLE_6127 = [(3.785, 4.22, 4.02), (3.785, 2.18, 1.98)]
LABELS_6127 = [("$M_r$=1.000", 0.49, 0.98, -22, True), ("10.0", 1.235, 0.949, -35, False), ("1000.0", 3.8, 0.934, 270, False),
               ("100.0", 3.8, 0.35, 270, False)]
STREAKS_6127 = [(3.146, 3.06, 3.7), (3.18, 3.06, 3.5), (3.2, 3.06, 3.7), (3.24, 3.06, 3.55), (3.215, 1.56, 1.67), (3.277, 1.43, 1.52),
                (3.153, 0.72, 0.8), (3.215, 0.63, 0.69), (3.25, 0.46, 0.49), (3.28, 1.2, 1.23), (1.42, 0.34, 0.39),
                (3.34, 0.0, 0.3), (3.4, 0.0, 0.35), (3.45, 0.0, 0.4), (3.5, 0.0, 0.42), (3.6, 0.0, 0.45), (3.65, 0.0, 0.55)]

MASSES = ["1331", "1662", "1932", "4477", "6127"]
X_TICKS = [[0.5, 1.0, 1.5, 2.0, 2.5, 3.0]] * 4 + [[0.5, 1.0, 1.5, 2.0, 2.5, 3.0, 3.5]]
Y_TICKS = [0.5, 1.5, 2.5, 3.5]
Y_MINOR = [1.0, 2.0, 3.0]

W, H = 4542, 4942
fig = plt.figure(figsize=(W / 300, H / 300), dpi=300)


def curved(pts, sx, sy, closed=False):
    # bezier through the read points, sharp turns stay corners
    p = np.array(pts, dtype=float)
    s = p * [sx, sy]
    verts, codes = [p[0]], [Path.MOVETO]
    n = len(p)
    for i in range(1, n - 1):
        a, b = s[i] - s[i - 1], s[i + 1] - s[i]
        cosang = np.dot(a, b) / (np.linalg.norm(a) * np.linalg.norm(b) + 1e-9)
        if cosang < 0.55:
            verts.append(p[i])
            codes.append(Path.LINETO)
        else:
            verts += [p[i], (p[i] + p[i + 1]) / 2]
            codes += [Path.CURVE3, Path.CURVE3]
    verts.append(p[-1])
    codes.append(Path.LINETO)
    if closed:
        verts.append(p[0])
        codes.append(Path.CLOSEPOLY)
    return Path(verts, codes)


def panel(box, xlim, ylim, xticks, surf, conv, dots, he, lowd, band, white, black, needle, labels, streaks):
    left, top, right, bottom = box
    ax = fig.add_axes([left / 1440, 1 - bottom / 1567, (right - left) / 1440, (bottom - top) / 1567])
    ax.set_xlim(*xlim)
    ax.set_ylim(*ylim)
    ax_w = (right - left) * W / 1440
    ax_h = (bottom - top) * H / 1567
    sx = ax_w / (xlim[1] - xlim[0])
    sy = ax_h / (ylim[1] - ylim[0])

    def line(pts, **kw):
        ax.add_patch(PathPatch(curved(pts, sx, sy), fc="none", **kw))

    full = LOW_SURFACE + surf
    xend = he[-1][0]
    ax.add_patch(PathPatch(curved(full + [(xend, 0.0), (0.30, 0.0)], sx, sy, True), fc=RAD, ec="none", zorder=1))

    # envelope noise of the protostar
    ax.add_patch(Polygon(LOW_SURFACE + [surf[0]] + ENV_BOTTOM, fc=CONV, ec="none", zorder=2))
    ax.vlines(ENV_X, ENV_LOW, ENV_HIGH, color=NAVY, lw=1.2, zorder=2.2)
    ax.vlines(ENV_X[1::2], ENV_LOW[1::2], [y + 0.05 for y in ENV_LOW[1::2]], color="#6f9a55", lw=0.9, zorder=2.3)
    ax.add_patch(Polygon(LEFT_PATCH, fc="#2d4c80", ec="#6f9a55", lw=1.2, zorder=2.2))
    for x, y0, y1 in SPECKS + streaks:
        ax.plot([x, x], [y0, y1], color=NAVY, lw=1.3, zorder=2.3)

    for pts in conv:
        path = curved(pts, sx, sy, True)
        ax.add_patch(PathPatch(path, fc=CONV, ec=OLIVE, lw=2.2, zorder=2))
        ax.add_patch(PathPatch(path, fc="none", ec=NAVY, lw=0.9, zorder=2.1))
    ax.vlines(DEUT_X, 0, DEUT_TOP, color=NAVY, lw=1.3, zorder=2.2)

    for pts in black:
        line(pts, ec="#111111", lw=0.9, zorder=3)
    for text, x, y, rot, boxed in labels:
        bbox = dict(fc=RAD, ec="none", pad=0.5) if boxed else None
        ax.text(x, y, text, fontsize=12.5, rotation=rot, ha="center", va="center", rotation_mode="anchor",
                color="#222222", zorder=3.3, bbox=bbox, clip_on=False)

    line(full, ec="black", lw=2.3, zorder=3.5, joinstyle="round")
    for x, y0, y1 in needle:
        ax.plot([x, x], [y0, y1], color="black", lw=2.2, zorder=3.5)

    for pts in WHITE_TOP + white:
        line(pts, ec="white", lw=1.5, zorder=4)

    # hydrogen burning dots
    gx, gy = [], []
    for j, fy in enumerate(np.arange(0, 1, 30 / ax_h)):
        for fx in np.arange((j % 2) * 31.5 / ax_w, 1, 63 / ax_w):
            gx.append(fx)
            gy.append(fy)
    sc = ax.scatter(gx, gy, s=24, color="#3a3a48", alpha=0.6, linewidths=0, transform=ax.transAxes, zorder=4.5)
    sc.set_clip_path(Polygon(dots, transform=ax.transData))

    ax.add_patch(PathPatch(curved(lowd, sx, sy, True), fc=YELLOW, ec="none", alpha=0.53, zorder=5))
    ax.add_patch(PathPatch(curved(band, sx, sy), fc="none", ec=YELLOW, alpha=0.53, lw=8.5, zorder=5,
                           capstyle="butt", joinstyle="miter"))
    ax.add_patch(Polygon(he, fc=GREEN, ec="none", zorder=5.2))

    for s in ax.spines.values():
        s.set_linewidth(3)
    ax.set_xticks(xticks)
    ax.set_xticklabels(["%.1f" % v for v in xticks])
    ax.set_yticks(Y_TICKS)
    ax.set_yticklabels(["%.1f" % v for v in Y_TICKS])
    ax.set_yticks(Y_MINOR, minor=True)
    ax.tick_params(axis="both", which="major", direction="inout", length=13, width=3, labelsize=27.5, labelcolor="#111111")
    ax.tick_params(axis="x", which="major", pad=-1)
    ax.tick_params(axis="y", which="major", pad=-1.5)
    ax.tick_params(axis="y", which="minor", direction="in", length=5, width=1.2)
    return ax


BOXES = [(153, 50, 697, 447), (805, 50, 1349, 448), (153, 533, 698, 928), (805, 533, 1349, 926), (150, 1030, 692, 1427)]
XLIMS = [(0.274, 3.35), (0.259, 3.80), (0.281, 3.78), (0.30, 3.80), (0.289, 3.985)]
YLIMS = [(0, 3.99), (0, 3.99), (0, 4.05), (0, 4.19), (0, 4.29)]
ALL_SURF = [SURF_1331, SURF_1662, SURF_1932, SURF_4477, SURF_6127]
ALL_CONV = [CONV_1331, CONV_1662, CONV_1932, CONV_4477, CONV_6127]
ALL_DOTS = [DOTS_1331, DOTS_1662, DOTS_1932, DOTS_4477, DOTS_6127]
ALL_HE = [HE_1331, HE_1662, HE_1932, HE_4477, HE_6127]
ALL_LOWD = [LOWD_1331, LOWD_1662, LOWD_1932, LOWD_4477, LOWD_6127]
ALL_BAND = [BAND_1331, BAND_1662, BAND_1932, BAND_4477, BAND_6127]
ALL_WHITE = [WHITE_1331, WHITE_1662, WHITE_1932, WHITE_4477, WHITE_6127]
ALL_BLACK = [BLACK_1331, BLACK_1662, BLACK_1932, BLACK_4477, BLACK_6127]
ALL_NEEDLE = [NEEDLE_1331, NEEDLE_1662, NEEDLE_1932, NEEDLE_4477, NEEDLE_6127]
ALL_LABELS = [LABELS_1331, LABELS_1662, LABELS_1932, LABELS_4477, LABELS_6127]
ALL_STREAKS = [STREAKS_1331, STREAKS_1662, STREAKS_1932, STREAKS_4477, STREAKS_6127]

for i in range(5):
    panel(BOXES[i], XLIMS[i], YLIMS[i], X_TICKS[i], ALL_SURF[i], ALL_CONV[i], ALL_DOTS[i], ALL_HE[i], ALL_LOWD[i], ALL_BAND[i],
          ALL_WHITE[i], ALL_BLACK[i], ALL_NEEDLE[i], ALL_LABELS[i], ALL_STREAKS[i])

# overlay in picture units for texts and the legend
ov = fig.add_axes([0, 0, 1, 1], zorder=10)
ov.set_xlim(0, 1440)
ov.set_ylim(1567, 0)
ov.axis("off")


def sun(x, y, size=22):
    ov.text(x, y, "\u2299", fontsize=size, family="DejaVu Sans", fontweight="bold", ha="center", va="center")


MASS_POS = [(187, 110), (826, 102), (172, 578), (826, 570), (172, 1073)]
for m, (x, y) in zip(MASSES, MASS_POS):
    ov.text(x, y, m + " M", fontsize=24, ha="left", va="baseline", color="#111111")
    sun(x + 109, y + 2)

ZERO_POS = [(121, 469), (775, 469), (124, 952), (773, 949), (120, 1451)]
for x, y in ZERO_POS:
    ov.text(x, y, "0.0", fontsize=27.5, ha="center", va="center", color="#111111")

ov.text(47, 718, "log (R/R", fontsize=34, rotation=90, ha="center", va="center", color="#111111")
sun(62, 618, 22)
ov.text(47, 590, ")", fontsize=34, rotation=90, ha="center", va="center", color="#111111")
ov.text(708, 1535, "log (M/M", fontsize=34, ha="center", va="center", color="#111111")
sun(813, 1548, 27)
ov.text(836, 1535, ")", fontsize=34, ha="center", va="center", color="#111111")

LEGEND = [("Deuterium\nBurning", 871, 1083, "#ebee8f"), ("Convective\nRegion", 1161, 1083, CONV),
          ("Hydrogen\nBurning", 871, 1217, "none"), ("Radiative\nRegion", 1161, 1216, RAD), ("Helium\nBurning", 871, 1342, "#80ff80")]
for text, x, y, color in LEGEND:
    patch = FancyBboxPatch((x, y), 177, 82, boxstyle="round,pad=0,rounding_size=16", fc=color, ec="none", zorder=1)
    ov.add_patch(patch)
    if color == "none":
        gx, gy = [], []
        for j, yy in enumerate(np.arange(y + 2, y + 82, 9.3)):
            for xx in np.arange(x + 3 + (j % 2) * 9.5, x + 177, 19):
                gx.append(xx)
                gy.append(yy)
        sc = ov.scatter(gx, gy, s=15, color="#999999", linewidths=0, zorder=2)
        sc.set_clip_path(patch)
    ov.text(x + 89, y + 41, text, fontsize=24.5, ha="center", va="center", linespacing=1.3, color="black", zorder=3)

fig.savefig("out.png", dpi=300)
